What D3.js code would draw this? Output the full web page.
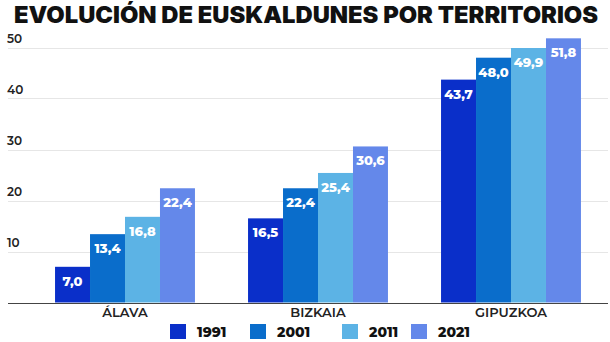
<!DOCTYPE html>
<html>
<head>
<meta charset="utf-8">
<script src="https://cdn.jsdelivr.net/npm/d3@7"></script>
<style>
  body { margin: 0; background: #fff; }
  text { font-family: "Montserrat", Inter, "Noto Sans", sans-serif; }
</style>
</head>
<body>
<div id="chart"></div>
<script>
// euskaldunes by territory, % of population
var territories = ["ÁLAVA", "BIZKAIA", "GIPUZKOA"];
var years = ["1991", "2001", "2011", "2021"];
var v1991 = [7.0, 16.5, 43.7];
var v2001 = [13.4, 22.4, 48.0];
var v2011 = [16.8, 25.4, 49.9];
var v2021 = [22.4, 30.6, 51.8];
var yTicks = [10, 20, 30, 40, 50];

var colors = ["#0a2fc9", "#0a6dcb", "#5cb3e5", "#6488ea"];
var series = [v1991, v2001, v2011, v2021];

var width = 610, height = 342;

var svg = d3.select("div#chart")
    .append("svg")
    .attr("width", width)
    .attr("height", height);

var x0 = d3.scaleBand()
    .domain(territories)
    .range([28.5, 607.5])
    .paddingInner(0.275)
    .paddingOuter(0.1375);

var x1 = d3.scaleBand()
    .domain(years)
    .range([0, x0.bandwidth()]);

var y = d3.scaleLinear()
    .domain([0, 50])
    .range([302.5, 47.5]);

var fmt = (v) => v.toFixed(1).replace(".", ",");

// title
svg.append("text")
    .attr("x", 14)
    .attr("y", 23)
    .attr("textLength", 584)
    .attr("lengthAdjust", "spacingAndGlyphs")
    .style("font-family", "Inter, 'Noto Sans', sans-serif")
    .style("font-weight", 900)
    .style("font-size", "23px")
    .attr("fill", "#111")
    .text("EVOLUCIÓN DE EUSKALDUNES POR TERRITORIOS");

// gridlines + tick labels
var grid = svg.append("g");
grid.selectAll("line")
    .data(yTicks)
    .enter()
    .append("line")
    .attr("x1", 8)
    .attr("x2", 608)
    .attr("y1", (d) => Math.round(y(d)) + 0.5)
    .attr("y2", (d) => Math.round(y(d)) + 0.5)
    .attr("stroke", "#e6e6e6");
grid.selectAll("text")
    .data(yTicks)
    .enter()
    .append("text")
    .attr("x", 7)
    .attr("y", (d) => y(d) - 5)
    .style("font-size", "12px")
    .style("font-weight", 600)
    .attr("fill", "#222")
    .text((d) => d);

// bars
var rows = [];
series.forEach((s, j) => s.forEach((v, i) =>
    rows.push({t: territories[i], yr: years[j], v: v, c: colors[j]})));

svg.selectAll("rect.bar")
    .data(rows)
    .enter()
    .append("rect")
    .attr("class", "bar")
    .attr("x", (d) => x0(d.t) + x1(d.yr))
    .attr("y", (d) => y(d.v))
    .attr("width", x1.bandwidth())
    .attr("height", (d) => y(0) - y(d.v))
    .attr("fill", (d) => d.c);

svg.selectAll("text.val")
    .data(rows)
    .enter()
    .append("text")
    .attr("class", "val")
    .attr("x", (d) => x0(d.t) + x1(d.yr) + x1.bandwidth() / 2)
    .attr("y", (d) => y(d.v) + 19)
    .attr("text-anchor", "middle")
    .style("font-size", "13px")
    .style("font-weight", 800)
    .attr("fill", "#fff")
    .text((d) => fmt(d.v));

// axis line
svg.append("line")
    .attr("x1", 8)
    .attr("x2", 608)
    .attr("y1", 303.5)
    .attr("y2", 303.5)
    .attr("stroke", "#444")
    .attr("stroke-width", 1.2);

svg.selectAll("text.cat")
    .data(territories)
    .enter()
    .append("text")
    .attr("class", "cat")
    .attr("x", (d) => x0(d) + x0.bandwidth() / 2)
    .attr("y", 317)
    .attr("text-anchor", "middle")
    .style("font-size", "13px")
    .style("font-weight", 600)
    .attr("fill", "#222")
    .text((d) => d);

// legend
var legX = [170, 250, 342, 411];
var leg = svg.selectAll("g.leg")
    .data(years)
    .enter()
    .append("g")
    .attr("class", "leg")
    .attr("transform", (d, i) => "translate(" + legX[i] + ",324)");
leg.append("rect")
    .attr("width", 16)
    .attr("height", 15)
    .attr("fill", (d, i) => colors[i]);
leg.append("text")
    .attr("x", 27)
    .attr("y", 13)
    .style("font-size", "14px")
    .style("font-weight", 800)
    .attr("fill", "#111")
    .text((d) => d);
</script>
</body>
</html>
